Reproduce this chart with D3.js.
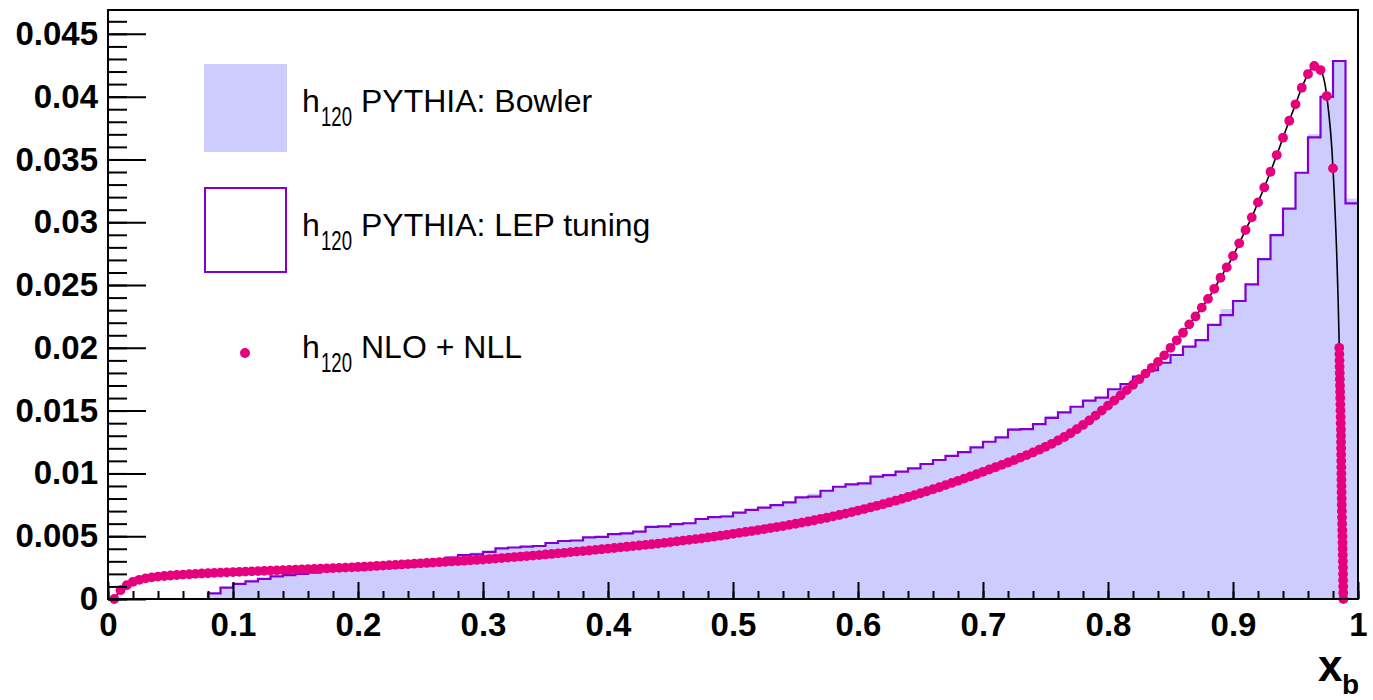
<!DOCTYPE html>
<html>
<head>
<meta charset="utf-8">
<script src="https://cdn.jsdelivr.net/npm/d3@7"></script>
<style>
  body { margin: 0; background: #fff; }
  #vis { width: 1373px; height: 700px; }
  text { font-family: "Liberation Sans", Arial, sans-serif; }
  .axis text { font-weight: bold; font-size: 33px; fill: #000; }
  .axis line { stroke: #000; stroke-width: 2px; }
  .axis .domain { display: none; }
</style>
</head>
<body>
<div id="vis"></div>
<script>
// histogram bins: 100 bins of width 0.01 between 0 and 1
var binLow = 0, binHigh = 1, nBins = 100;

// PYTHIA: Bowler (filled)
var bowler = [
  0, 0, 0, 0, 0, 0, 0, 0, 0.00045, 0.0009,
  0.0012, 0.0014, 0.0016, 0.0018, 0.0019, 0.00202, 0.00212, 0.00222, 0.00232, 0.0024,
  0.00248, 0.00256, 0.00265, 0.00275, 0.00288, 0.003, 0.00312, 0.00337, 0.0035, 0.0037,
  0.00375, 0.00403, 0.0041, 0.0042, 0.00422, 0.00446, 0.00462, 0.00466, 0.00491, 0.00494,
  0.00517, 0.00523, 0.00536, 0.00574, 0.0059, 0.00597, 0.0061, 0.00637, 0.00652, 0.0067,
  0.00687, 0.00709, 0.00727, 0.00748, 0.0077, 0.0081, 0.0084, 0.00862, 0.00894, 0.00913,
  0.00921, 0.00974, 0.00987, 0.01014, 0.0104, 0.01075, 0.01107, 0.01139, 0.0117, 0.01208,
  0.01252, 0.01287, 0.0136, 0.01353, 0.01393, 0.0146, 0.01486, 0.01531, 0.01579, 0.01603,
  0.0167, 0.01712, 0.0177, 0.01823, 0.01881, 0.01943, 0.02009, 0.02062, 0.02182, 0.0231,
  0.02373, 0.02505, 0.02707, 0.02898, 0.03108, 0.03394, 0.037, 0.0402, 0.04284, 0.0319
];

// PYTHIA: LEP tuning (outline)
var lep = [
  0, 0, 0, 0, 0, 0, 0, 0, 0.00045, 0.0009,
  0.0012, 0.0014, 0.0016, 0.0018, 0.0019, 0.002, 0.0021, 0.00222, 0.00232, 0.0024,
  0.00248, 0.00256, 0.00265, 0.00275, 0.00288, 0.003, 0.00312, 0.0033, 0.0035, 0.00355,
  0.00375, 0.00403, 0.0041, 0.00417, 0.00422, 0.00446, 0.00462, 0.00466, 0.00491, 0.00494,
  0.00517, 0.00523, 0.00536, 0.00574, 0.00578, 0.00597, 0.00603, 0.00637, 0.00652, 0.00657,
  0.00687, 0.00709, 0.00727, 0.00748, 0.0077, 0.0081, 0.00815, 0.00862, 0.00894, 0.00913,
  0.00921, 0.00974, 0.00987, 0.01014, 0.0104, 0.01075, 0.01107, 0.01139, 0.0117, 0.01208,
  0.01252, 0.01287, 0.01349, 0.01353, 0.01393, 0.01443, 0.01486, 0.01531, 0.01579, 0.01603,
  0.0167, 0.01712, 0.0177, 0.01823, 0.01881, 0.01943, 0.02009, 0.02062, 0.02182, 0.02261,
  0.02373, 0.02505, 0.02707, 0.02898, 0.03108, 0.03394, 0.03676, 0.03999, 0.04284, 0.0315
];

// NLO + NLL points [x, value]
var nlo = [
  [0.005, 0.00000], [0.010, 0.00070], [0.015, 0.00110], [0.020, 0.00137], [0.025, 0.00153],
  [0.030, 0.00164], [0.035, 0.00172], [0.040, 0.00178], [0.045, 0.00183], [0.050, 0.00187],
  [0.055, 0.00191], [0.060, 0.00194], [0.065, 0.00197], [0.070, 0.00200], [0.075, 0.00203],
  [0.080, 0.00205], [0.085, 0.00208], [0.090, 0.00210], [0.095, 0.00212], [0.100, 0.00214],
  [0.105, 0.00216], [0.110, 0.00218], [0.115, 0.00220], [0.120, 0.00222], [0.125, 0.00224],
  [0.130, 0.00226], [0.135, 0.00228], [0.140, 0.00230], [0.145, 0.00232], [0.150, 0.00234],
  [0.155, 0.00236], [0.160, 0.00238], [0.165, 0.00240], [0.170, 0.00242], [0.175, 0.00244],
  [0.180, 0.00246], [0.185, 0.00248], [0.190, 0.00250], [0.195, 0.00252], [0.200, 0.00255],
  [0.205, 0.00257], [0.210, 0.00260], [0.215, 0.00263], [0.220, 0.00266], [0.225, 0.00269],
  [0.230, 0.00272], [0.235, 0.00275], [0.240, 0.00278], [0.245, 0.00281], [0.250, 0.00284],
  [0.255, 0.00287], [0.260, 0.00290], [0.265, 0.00293], [0.270, 0.00296], [0.275, 0.00299],
  [0.280, 0.00302], [0.285, 0.00305], [0.290, 0.00308], [0.295, 0.00311], [0.300, 0.00314],
  [0.305, 0.00318], [0.310, 0.00322], [0.315, 0.00326], [0.320, 0.00330], [0.325, 0.00334],
  [0.330, 0.00338], [0.335, 0.00342], [0.340, 0.00346], [0.345, 0.00350], [0.350, 0.00355],
  [0.355, 0.00359], [0.360, 0.00364], [0.365, 0.00368], [0.370, 0.00373], [0.375, 0.00377],
  [0.380, 0.00382], [0.385, 0.00386], [0.390, 0.00391], [0.395, 0.00396], [0.400, 0.00401],
  [0.405, 0.00406], [0.410, 0.00411], [0.415, 0.00416], [0.420, 0.00421], [0.425, 0.00426],
  [0.430, 0.00431], [0.435, 0.00436], [0.440, 0.00441], [0.445, 0.00447], [0.450, 0.00453],
  [0.455, 0.00459], [0.460, 0.00465], [0.465, 0.00471], [0.470, 0.00477], [0.475, 0.00483],
  [0.480, 0.00490], [0.485, 0.00497], [0.490, 0.00504], [0.495, 0.00511], [0.500, 0.00519],
  [0.505, 0.00527], [0.510, 0.00534], [0.515, 0.00541], [0.520, 0.00549], [0.525, 0.00557],
  [0.530, 0.00565], [0.535, 0.00573], [0.540, 0.00581], [0.545, 0.00590], [0.550, 0.00599],
  [0.555, 0.00608], [0.560, 0.00617], [0.565, 0.00627], [0.570, 0.00637], [0.575, 0.00647],
  [0.580, 0.00658], [0.585, 0.00669], [0.590, 0.00680], [0.595, 0.00692], [0.600, 0.00704],
  [0.605, 0.00716], [0.610, 0.00729], [0.615, 0.00742], [0.620, 0.00755], [0.625, 0.00769],
  [0.630, 0.00783], [0.635, 0.00797], [0.640, 0.00812], [0.645, 0.00827], [0.650, 0.00842],
  [0.655, 0.00858], [0.660, 0.00874], [0.665, 0.00890], [0.670, 0.00907], [0.675, 0.00924],
  [0.680, 0.00941], [0.685, 0.00959], [0.690, 0.00977], [0.695, 0.00995], [0.700, 0.01013],
  [0.705, 0.01031], [0.710, 0.01049], [0.715, 0.01068], [0.720, 0.01087], [0.725, 0.01106],
  [0.730, 0.01126], [0.735, 0.01146], [0.740, 0.01167], [0.745, 0.01189], [0.750, 0.01212],
  [0.755, 0.01236], [0.760, 0.01262], [0.765, 0.01290], [0.770, 0.01320], [0.775, 0.01352],
  [0.780, 0.01386], [0.785, 0.01422], [0.790, 0.01460], [0.795, 0.01500], [0.800, 0.01540],
  [0.805, 0.01580], [0.810, 0.01621], [0.815, 0.01663], [0.820, 0.01706], [0.825, 0.01750],
  [0.830, 0.01795], [0.835, 0.01841], [0.840, 0.01888], [0.845, 0.01940], [0.850, 0.02000],
  [0.855, 0.02060], [0.860, 0.02120], [0.865, 0.02187], [0.870, 0.02250], [0.875, 0.02320],
  [0.880, 0.02390], [0.885, 0.02470], [0.890, 0.02558], [0.895, 0.02641], [0.900, 0.02731],
  [0.905, 0.02832], [0.910, 0.02938], [0.915, 0.03039], [0.920, 0.03158], [0.925, 0.03277],
  [0.930, 0.03402], [0.935, 0.03535], [0.940, 0.03673], [0.945, 0.03808], [0.950, 0.03939],
  [0.955, 0.04071], [0.960, 0.04180], [0.965, 0.04244], [0.970, 0.04212], [0.975, 0.04005],
  [0.980, 0.03429],
  // steep fall at the end point
  [0.98500, 0.0200], [0.98510, 0.0195], [0.98520, 0.0190], [0.98530, 0.0185], [0.98540, 0.0180],
  [0.98550, 0.0175], [0.98560, 0.0170], [0.98570, 0.0165], [0.98580, 0.0160], [0.98590, 0.0155],
  [0.98600, 0.0150], [0.98610, 0.0145], [0.98620, 0.0140], [0.98635, 0.0135], [0.98640, 0.0130],
  [0.98645, 0.0125], [0.98650, 0.0120], [0.98655, 0.0115], [0.98660, 0.0110], [0.98665, 0.0105],
  [0.98670, 0.0100], [0.98675, 0.0095], [0.98680, 0.0090], [0.98690, 0.0085], [0.98695, 0.0080],
  [0.98700, 0.0075], [0.98710, 0.0070], [0.98720, 0.0065], [0.98730, 0.0060], [0.98740, 0.0055],
  [0.98750, 0.0050], [0.98760, 0.0045], [0.98770, 0.0040], [0.98780, 0.0035], [0.98790, 0.0030],
  [0.98800, 0.0025], [0.98805, 0.0020], [0.98810, 0.0015], [0.98815, 0.0010], [0.98820, 0.0005],
  [0.98830, 0.0000]
];

var yTicks = [0, 0.005, 0.01, 0.015, 0.02, 0.025, 0.03, 0.035, 0.04, 0.045];
var yTickLabels = ['0', '0.005', '0.01', '0.015', '0.02', '0.025', '0.03', '0.035', '0.04', '0.045'];
var xTicks = [0, 0.1, 0.2, 0.3, 0.4, 0.5, 0.6, 0.7, 0.8, 0.9, 1];
var xTickLabels = ['0', '0.1', '0.2', '0.3', '0.4', '0.5', '0.6', '0.7', '0.8', '0.9', '1'];
var legendLabels = ['PYTHIA: Bowler', 'PYTHIA: LEP tuning', 'NLO + NLL'];

var fillColour = '#ccccff';
var lineColour = '#7f00d2';
var markColour = '#e6007e';

var width = 1373, height = 700;
var margin = { top: 10, bottom: 101, left: 108, right: 15 };

var svg = d3.select('#vis')
    .append('svg')
    .attr('width', width)
    .attr('height', height);

var plot = svg.append('g')
    .attr('transform', 'translate(' + margin.left + ',' + margin.top + ')');

var w = width - margin.left - margin.right;
var h = height - margin.top - margin.bottom;

var x_scale = d3.scaleLinear()
    .domain([binLow, binHigh])
    .range([0, w]);

var y_scale = d3.scaleLinear()
    .domain([0, 0.0469])
    .range([h, 0]);

var binW = (binHigh - binLow) / nBins;

// step points: each bin gives its left edge, plus the right edge of the last bin
function steps(vals) {
    var pts = vals.map(function(v, i) { return [binLow + i * binW, v]; });
    pts.push([binHigh, vals[vals.length - 1]]);
    return pts;
}

var area = d3.area()
    .curve(d3.curveStepAfter)
    .x(function(d) { return x_scale(d[0]); })
    .y0(y_scale(0))
    .y1(function(d) { return y_scale(d[1]); });

var stepLine = d3.line()
    .curve(d3.curveStepAfter)
    .x(function(d) { return x_scale(d[0]); })
    .y(function(d) { return y_scale(d[1]); });

plot.append('path')
    .datum(steps(bowler))
    .attr('d', area)
    .attr('fill', fillColour);

plot.append('path')
    .datum(steps(lep))
    .attr('d', stepLine)
    .attr('fill', 'none')
    .attr('stroke', lineColour)
    .attr('stroke-width', 2.2);

var curve = d3.line()
    .curve(d3.curveMonotoneX)
    .x(function(d) { return x_scale(d[0]); })
    .y(function(d) { return y_scale(d[1]); });

plot.append('path')
    .datum(nlo)
    .attr('d', curve)
    .attr('fill', 'none')
    .attr('stroke', '#000')
    .attr('stroke-width', 1.6);

plot.selectAll('.pt')
    .data(nlo)
    .enter()
    .append('circle')
    .attr('class', 'pt')
    .attr('cx', function(d) { return x_scale(d[0]); })
    .attr('cy', function(d) { return y_scale(d[1]); })
    .attr('r', 4.9)
    .attr('fill', markColour);

// axes, ROOT style: ticks inside the frame
var y_minor = d3.range(0, 0.0465, 0.001);
var x_minor = d3.range(0, 1.001, 0.02);

plot.append('g')
    .attr('class', 'y axis minor')
    .call(d3.axisLeft(y_scale).tickValues(y_minor).tickSize(-19).tickFormat(''));

plot.append('g')
    .attr('class', 'y axis')
    .call(d3.axisLeft(y_scale)
        .tickValues(yTicks)
        .tickSize(-38)
        .tickPadding(10)
        .tickFormat(function(d, i) { return yTickLabels[i]; }));

plot.append('g')
    .attr('class', 'x axis minor')
    .attr('transform', 'translate(0,' + h + ')')
    .call(d3.axisBottom(x_scale).tickValues(x_minor).tickSize(-8).tickFormat(''));

plot.append('g')
    .attr('class', 'x axis')
    .attr('transform', 'translate(0,' + h + ')')
    .call(d3.axisBottom(x_scale)
        .tickValues(xTicks)
        .tickSize(-17)
        .tickPadding(14)
        .tickFormat(function(d, i) { return xTickLabels[i]; }));

// frame
plot.append('rect')
    .attr('x', 0)
    .attr('y', 0)
    .attr('width', w)
    .attr('height', h)
    .attr('fill', 'none')
    .attr('stroke', '#000')
    .attr('stroke-width', 2);

// axis title x_b
svg.append('text')
    .attr('x', 1318)
    .attr('y', 681)
    .attr('font-weight', 'bold')
    .attr('font-size', 44)
    .text('x');
svg.append('text')
    .attr('x', 1342)
    .attr('y', 694)
    .attr('font-weight', 'bold')
    .attr('font-size', 28)
    .text('b');

// legend
var legend = svg.append('g');
var rowBase = [112, 236, 358];

legend.append('rect')
    .attr('x', 204).attr('y', 64)
    .attr('width', 83).attr('height', 88)
    .attr('fill', fillColour);

legend.append('rect')
    .attr('x', 205).attr('y', 188)
    .attr('width', 81).attr('height', 84)
    .attr('fill', 'none')
    .attr('stroke', lineColour)
    .attr('stroke-width', 2);

legend.append('circle')
    .attr('cx', 245).attr('cy', 353)
    .attr('r', 5)
    .attr('fill', markColour);

legendLabels.forEach(function(lab, i) {
    var t = legend.append('text')
        .attr('y', rowBase[i])
        .attr('font-size', 32)
        .attr('fill', '#000');
    t.append('tspan').attr('x', 302).text('h');
    t.append('tspan')
        .attr('x', 321)
        .attr('dy', 14)
        .attr('font-size', 27)
        .attr('textLength', 31)
        .attr('lengthAdjust', 'spacingAndGlyphs')
        .text('120');
    t.append('tspan').attr('x', 361).attr('dy', -14).text(lab);
});
</script>
</body>
</html>
